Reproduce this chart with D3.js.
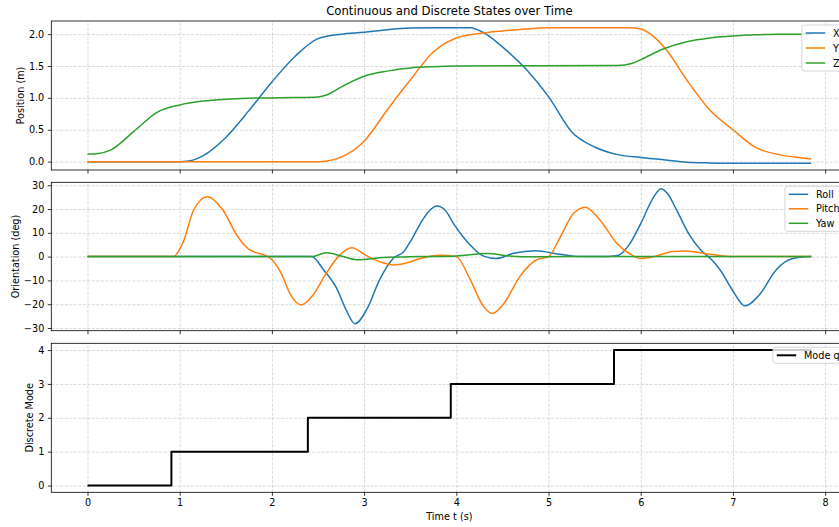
<!DOCTYPE html>
<html>
<head>
<meta charset="utf-8">
<script src="https://cdn.jsdelivr.net/npm/d3@7"></script>
<style>
  body { margin: 0; background: #fff; }
  svg { display: block; font-family: "DejaVu Sans", sans-serif; }
  .tick text { font-size: 9.7px; fill: #000; font-family: "DejaVu Sans", sans-serif; }
  .tick line { stroke: #000; stroke-width: 0.8; }
  .grid line { stroke: #b0b0b0; stroke-opacity: 0.6; stroke-width: 0.8; stroke-dasharray: 3,1.5; }
  .grid path { display: none; }
</style>
</head>
<body>
<div id="chart"></div>
<script>
// --- data ([time s, value]) ---
const posX = [[0,0],[1.0,0],[1.1,0.01],[1.25,0.09],[1.5,0.38],[1.75,0.8],[2.0,1.25],[2.25,1.65],[2.5,1.93],[2.75,2.0],[3.0,2.03],[3.25,2.07],[3.5,2.095],[3.75,2.1],[4.15,2.1],[4.3,2.02],[4.5,1.8],[4.75,1.46],[5.0,1.02],[5.25,0.47],[5.5,0.23],[5.75,0.11],[6.0,0.065],[6.25,0.03],[6.5,-0.01],[6.75,-0.02],[7.0,-0.025],[7.85,-0.025]];
const posY = [[0,0],[2.5,0],[2.6,0.01],[2.75,0.07],[3.0,0.32],[3.25,0.81],[3.5,1.28],[3.75,1.72],[4.0,1.94],[4.25,2.01],[4.5,2.05],[4.75,2.08],[5.0,2.1],[5.88,2.1],[6.0,2.08],[6.15,1.95],[6.28,1.75],[6.5,1.28],[6.75,0.81],[7.0,0.5],[7.25,0.22],[7.5,0.11],[7.75,0.06],[7.85,0.04]];
const posZ = [[0,0.12],[0.1,0.125],[0.25,0.18],[0.5,0.47],[0.75,0.77],[1.0,0.89],[1.25,0.95],[1.5,0.98],[1.75,0.995],[2.0,1.0],[2.25,1.005],[2.5,1.015],[2.6,1.05],[2.75,1.17],[3.0,1.34],[3.25,1.42],[3.5,1.47],[3.75,1.49],[4.0,1.5],[5.75,1.51],[5.9,1.54],[6.0,1.6],[6.25,1.77],[6.5,1.88],[6.75,1.94],[7.0,1.97],[7.25,1.99],[7.5,2.0],[7.85,2.0]];

const roll = [[0,0],[2.43,0],[2.56,-5.5],[2.70,-13.1],[2.81,-22.8],[2.90,-28.2],[3.03,-22.1],[3.17,-9.6],[3.32,-0.6],[3.43,2.1],[3.52,7.5],[3.61,13.9],[3.70,19],[3.79,21.3],[3.88,19.5],[3.97,13.9],[4.06,9],[4.15,4.9],[4.29,0.3],[4.43,-0.8],[4.62,1.4],[4.86,2.5],[5.12,1.0],[5.35,0],[5.65,0.1],[5.76,0.6],[5.86,4.2],[6.0,13.9],[6.14,25],[6.22,28.5],[6.30,26],[6.39,19.5],[6.53,9],[6.65,2.8],[6.77,-1.3],[6.86,-5.5],[6.99,-13.8],[7.13,-20.7],[7.29,-15.9],[7.47,-5.5],[7.65,-0.8],[7.85,0]];
const pitch = [[0,0],[0.93,0],[1.04,6.3],[1.15,19.5],[1.30,25.2],[1.47,19.5],[1.62,9],[1.76,2.8],[1.91,0.8],[1.96,0],[2.10,-6.9],[2.20,-15.9],[2.32,-20.3],[2.45,-15.9],[2.58,-7.6],[2.72,0],[2.865,3.7],[3.03,0.3],[3.21,-2.7],[3.32,-3.5],[3.45,-2.8],[3.61,-0.8],[3.82,0.6],[4.0,0],[4.15,-9.6],[4.29,-20.7],[4.39,-23.9],[4.51,-20],[4.69,-8.3],[4.87,-1.3],[5.0,0],[5.12,7.7],[5.27,18.1],[5.40,20.8],[5.56,15.3],[5.74,5.6],[5.88,1.2],[6.0,-0.8],[6.14,0],[6.35,2.2],[6.48,2.4],[6.75,1.0],[7.0,0],[7.85,0]];
const yaw = [[0,0],[2.43,0],[2.59,1.6],[2.75,0.3],[2.92,-1.3],[3.05,-1.0],[3.21,-0.4],[3.6,0],[4.0,0.3],[4.33,1.3],[4.6,0.2],[4.8,-0.1],[5.2,0],[7.85,0]];

const modeT = [0, 0.91, 2.39, 3.94, 5.71, 7.85];
const modeQ = [0, 1, 2, 3, 4, 4];

const xTicks = [0, 1, 2, 3, 4, 5, 6, 7, 8];
const posTicks = [0, 0.5, 1.0, 1.5, 2.0];
const oriTicks = [-30, -20, -10, 0, 10, 20, 30];
const modeTicks = [0, 1, 2, 3, 4];

const colors = ["#1f77b4", "#ff7f0e", "#2ca02c"];

// --- layout ---
const W = 839, H = 527;
const left = 51.3, right = 847.5;
const panels = [
    { top: 21, bottom: 170 },
    { top: 182.3, bottom: 330.7 },
    { top: 343.3, bottom: 492.3 }
];

const svg = d3.select("#chart").append("svg")
    .attr("width", W)
    .attr("height", H);

// matplotlib style 5% margins
function padded(lo, hi) {
    const p = (hi - lo) * 0.05;
    return [lo - p, hi + p];
}

const x = d3.scaleLinear()
    .domain(padded(0, 7.85))
    .range([left, right]);

function panelAxes(p, yDomain, ticks, fmt, showX) {
    const y = d3.scaleLinear().domain(yDomain).range([p.bottom, p.top]);
    const g = svg.append("g");

    // grid
    g.append("g").attr("class", "grid")
        .attr("transform", `translate(0,${p.bottom})`)
        .call(d3.axisBottom(x).tickValues(xTicks).tickSize(-(p.bottom - p.top)).tickFormat(""));
    g.append("g").attr("class", "grid")
        .attr("transform", `translate(${left},0)`)
        .call(d3.axisLeft(y).tickValues(ticks).tickSize(-(right - left)).tickFormat(""));

    // axes
    g.append("g")
        .attr("transform", `translate(${left},0)`)
        .call(d3.axisLeft(y).tickValues(ticks).tickFormat(fmt).tickSize(3.5).tickPadding(3.5))
        .call(a => a.select(".domain").remove());
    g.append("g")
        .attr("transform", `translate(0,${p.bottom})`)
        .call(d3.axisBottom(x).tickValues(xTicks).tickFormat(showX ? d3.format("d") : "").tickSize(3.5).tickPadding(3.5))
        .call(a => a.select(".domain").remove());

    // frame
    g.append("rect")
        .attr("x", left).attr("y", p.top)
        .attr("width", right - left).attr("height", p.bottom - p.top)
        .attr("fill", "none").attr("stroke", "#000").attr("stroke-width", 0.8);

    return y;
}

function drawLine(y, data, color, width, curve) {
    svg.append("path")
        .datum(data)
        .attr("fill", "none")
        .attr("stroke", color)
        .attr("stroke-width", width)
        .attr("stroke-linejoin", "round")
        .attr("d", d3.line().x(d => x(d[0])).y(d => y(d[1])).curve(curve));
}

function legend(p, entries, rowGap) {
    const g = svg.append("g");
    const rowH = rowGap;
    const top = p.top + 4;
    const items = g.selectAll("g").data(entries).join("g");
    const texts = items.append("text")
        .attr("font-size", 9.7)
        .attr("fill", "#000")
        .text(d => d.label);
    let tw = 0;
    texts.each(function () { tw = Math.max(tw, this.getComputedTextLength()); });
    const w = 3.9 + 19.4 + 7.8 + tw + 3.9;
    const x0 = right - 4 - w;
    const h = 16 + (entries.length - 1) * rowH;
    g.insert("rect", ":first-child")
        .attr("x", x0).attr("y", top)
        .attr("width", w).attr("height", h)
        .attr("rx", 2.5)
        .attr("fill", "#fff").attr("fill-opacity", 0.8)
        .attr("stroke", "#ccc").attr("stroke-width", 0.8);
    items.append("line")
        .attr("x1", x0 + 3.9).attr("x2", x0 + 3.9 + 19.4)
        .attr("y1", (d, i) => top + 8 + i * rowH)
        .attr("y2", (d, i) => top + 8 + i * rowH)
        .attr("stroke", d => d.color)
        .attr("stroke-width", d => d.width);
    texts.attr("x", x0 + 3.9 + 19.4 + 7.8)
        .attr("y", (d, i) => top + 8 + i * rowH + 3.5);
}

// --- panel 1: position ---
const y1 = panelAxes(panels[0], padded(-0.025, 2.1), posTicks, d3.format(".1f"), false);
[posX, posY, posZ].forEach((s, i) => drawLine(y1, s, colors[i], 1.5, d3.curveMonotoneX));
legend(panels[0], [
    { label: "X", color: colors[0], width: 1.5 },
    { label: "Y", color: colors[1], width: 1.5 },
    { label: "Z", color: colors[2], width: 1.5 }
], 15);

// --- panel 2: orientation ---
const y2 = panelAxes(panels[1], padded(-28.3, 28.4), oriTicks, d3.format("d"), false);
[roll, pitch, yaw].forEach((s, i) => drawLine(y2, s, colors[i], 1.5, d3.curveMonotoneX));
legend(panels[1], [
    { label: "Roll", color: colors[0], width: 1.5 },
    { label: "Pitch", color: colors[1], width: 1.5 },
    { label: "Yaw", color: colors[2], width: 1.5 }
], 14.5);

// --- panel 3: discrete mode ---
const y3 = panelAxes(panels[2], padded(0, 4), modeTicks, d3.format("d"), true);
drawLine(y3, modeT.map((t, i) => [t, modeQ[i]]), "#000", 2, d3.curveStepAfter);
legend(panels[2], [{ label: "Mode q", color: "#000", width: 2 }], 15);

// --- labels ---
svg.append("text")
    .attr("x", (left + right) / 2).attr("y", 15)
    .attr("text-anchor", "middle")
    .attr("font-size", 11.7)
    .text("Continuous and Discrete States over Time");

svg.append("text")
    .attr("x", (left + right) / 2).attr("y", 519.5)
    .attr("text-anchor", "middle")
    .attr("font-size", 9.7)
    .text("Time t (s)");

const yLabels = [
    { text: "Position (m)", x: 23.5 },
    { text: "Orientation (deg)", x: 18.5 },
    { text: "Discrete Mode", x: 32.7 }
];
yLabels.forEach((l, i) => {
    const p = panels[i];
    svg.append("text")
        .attr("transform", `translate(${l.x},${(p.top + p.bottom) / 2}) rotate(-90)`)
        .attr("text-anchor", "middle")
        .attr("font-size", 9.7)
        .text(l.text);
});
</script>
</body>
</html>
